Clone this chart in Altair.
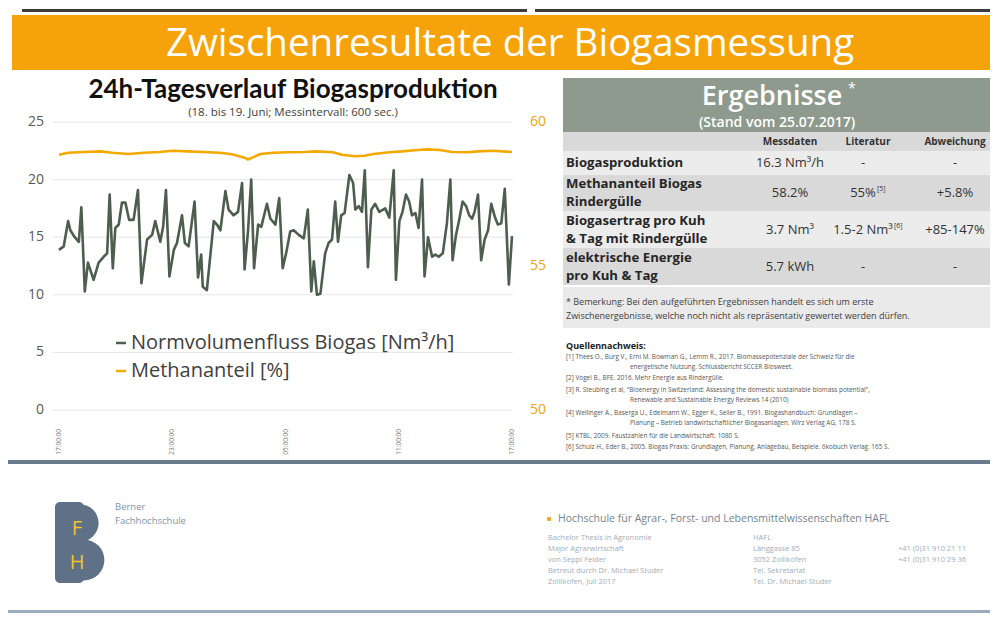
import altair as alt
import pandas as pd

# ---------------- data ----------------
# minutes after 17:00 (18 June) and Normvolumenfluss Biogas [Nm3/h]
flow_minutes = [0, 15, 29, 36, 50, 63, 71, 82, 92, 110,
                126, 142, 153, 161, 171, 179, 190, 200, 211, 223,
                237, 251, 262, 280, 296, 306, 322, 331, 340, 351,
                365, 375, 391, 400, 412, 431, 442, 452, 457, 470,
                492, 502, 513, 529, 539, 555, 569, 582, 590, 601,
                611, 620, 633, 643, 661, 672, 688, 700, 711, 722,
                735, 746, 762, 778, 791, 802, 810, 820, 831, 846,
                857, 868, 878, 887, 897, 908, 923, 935, 942, 953,
                963, 972, 982, 993, 1005, 1018, 1037, 1050, 1064, 1071,
                1082, 1092, 1103, 1113, 1122, 1133, 1143, 1154, 1162, 1173,
                1186, 1196, 1207, 1220, 1233, 1244, 1251, 1262, 1272, 1283,
                1294, 1304, 1313, 1321, 1332, 1342, 1353, 1364, 1374, 1385,
                1395, 1406, 1417, 1430, 1440]
flow_values = [13.9, 14.2, 16.4, 15.6, 15.0, 14.6, 17.6, 10.3, 12.8, 11.3,
               12.8, 13.3, 13.6, 18.7, 12.3, 15.8, 16.1, 18.0, 18.0, 16.5,
               16.5, 19.1, 11.0, 14.8, 15.2, 16.4, 14.6, 15.9, 19.1, 11.6,
               13.9, 14.5, 16.9, 14.5, 14.2, 18.1, 11.5, 13.5, 10.7, 10.4,
               16.4, 16.1, 15.6, 19.0, 17.4, 16.9, 17.2, 19.7, 12.2, 15.6,
               20.0, 12.3, 16.1, 15.9, 17.9, 16.6, 16.1, 18.4, 12.3, 13.6,
               15.5, 15.6, 15.2, 14.9, 17.4, 10.3, 12.9, 10.0, 10.1, 13.6,
               14.5, 14.8, 18.1, 14.6, 16.9, 17.1, 20.4, 19.7, 17.4, 17.7,
               17.2, 20.8, 12.4, 17.4, 17.9, 17.2, 17.5, 16.7, 20.8, 11.3,
               16.4, 17.2, 18.7, 18.1, 16.9, 17.1, 15.8, 20.0, 11.6, 15.0,
               13.3, 13.5, 13.3, 13.6, 16.2, 20.0, 13.0, 15.2, 16.5, 18.1,
               17.7, 16.9, 16.6, 17.2, 18.7, 13.0, 14.8, 15.6, 17.9, 16.8,
               16.1, 16.2, 19.2, 10.9, 15.1]
# Methananteil [%]
ch4_minutes = [0, 30, 80, 130, 170, 220, 270, 320, 360, 410,
               460, 510, 550, 590, 600, 620, 640, 680, 730, 780,
               820, 870, 900, 940, 970, 1000, 1050, 1090, 1140, 1170,
               1210, 1250, 1300, 1330, 1380, 1440]
ch4_values = [58.86, 58.93, 58.96, 58.98, 58.93, 58.89, 58.93, 58.96, 59.00, 58.98,
              58.96, 58.93, 58.88, 58.76, 58.70, 58.79, 58.89, 58.93, 58.95, 58.96,
              58.98, 58.95, 58.86, 58.81, 58.83, 58.89, 58.95, 58.98, 59.03, 59.05,
              59.03, 58.96, 58.95, 58.98, 59.00, 58.96]

left_ticks = [0, 5, 10, 15, 20, 25]
right_ticks = [50, 55, 60]
time_ticks = [0, 360, 720, 1080, 1440]
time_labels = ["17:00:00", "23:00:00", "05:00:00", "11:00:00", "17:00:00"]
series_names = ["Normvolumenfluss Biogas [Nm³/h]", "Methananteil [%]"]

banner_title = "Zwischenresultate der Biogasmessung"
chart_title = "24h-Tagesverlauf Biogasproduktion"
chart_subtitle = "(18. bis 19. Juni; Messintervall: 600 sec.)"

table_header = ["Messdaten", "Literatur", "Abweichung"]
row_labels_1 = ["Biogasproduktion", "Methananteil Biogas", "Biogasertrag pro Kuh", "elektrische Energie"]
row_labels_2 = ["", "Rindergülle", "& Tag mit Rindergülle", "pro Kuh & Tag"]
messdaten = ["16.3 Nm³/h", "58.2%", "3.7 Nm³", "5.7 kWh"]
literatur = ["-", "55%", "1.5-2 Nm³", "-"]
literatur_refs = ["", "[5]", "[6]", ""]
abweichung = ["-", "+5.8%", "+85-147%", "-"]
remark_lines = ["* Bemerkung: Bei den aufgeführten Ergebnissen handelt es sich um erste",
                "Zwischenergebnisse, welche noch nicht als repräsentativ gewertet werden dürfen."]
references = [
    "[1] Thees O., Burg V., Erni M. Bowman G., Lemm R., 2017. Biomassepotenziale der Schweiz für die",
    "[2] Vogel B., BFE. 2016. Mehr Energie aus Rindergülle.",
    "[3] R. Steubing et al, \"Bioenergy in Switzerland: Assessing the domestic sustainable biomass potential\",",
    "[4] Wellinger A., Baserga U., Edelmann W., Egger K., Seiler B., 1991. Biogashandbuch: Grundlagen –",
    "[5] KTBL, 2009. Faustzahlen für die Landwirtschaft. 1080 S.",
    "[6] Schulz H., Eder B., 2005. Biogas Praxis: Grundlagen, Planung, Anlagebau, Beispiele. ökobuch Verlag. 165 S.",
]
references_cont = ["energetische Nutzung. Schlussbericht SCCER Biosweet.", "",
                   "Renewable and Sustainable Energy Reviews 14 (2010)",
                   "Planung – Betrieb landwirtschaftlicher Biogasanlagen. Wirz Verlag AG, 178 S.", "", ""]
footer_col1 = ["Bachelor Thesis in Agronomie", "Major Agrarwirtschaft", "von Seppi Felder",
               "Betreut durch Dr. Michael Studer", "Zollikofen, Juli 2017"]
footer_col2 = ["HAFL", "Länggasse 85", "3052 Zollikofen", "Tel. Sekretariat", "Tel. Dr. Michael Studer"]
footer_col3 = ["", "", "", "+41 (0)31 910 21 11", "+41 (0)31 910 29 36"]

# ---------------- layout helpers ----------------
W, H = 982, 607
FONT = "Open Sans"
GREEN = "#4d5e4f"
ORANGE = "#f2a900"

X_TIME = alt.Scale(domain=[0, 1440], range=[51, 504], nice=False, zero=False)
Y_LEFT = alt.Scale(domain=[0, 25], range=[402, 114], nice=False, zero=False)
Y_RIGHT = alt.Scale(domain=[50, 60], range=[402, 114], nice=False, zero=False)
X_TAB = alt.Scale(domain=[0, 1, 2, 3], range=[558, 782, 860, 947], nice=False, zero=False)
Y_TAB = alt.Scale(domain=[-1.5, -1, -0.5, 0, 0.5, 1, 1.5, 2, 2.5, 3, 3.5],
                  range=[124, 133.5, 143, 155, 167, 185, 203, 221.5, 240, 258.5, 277],
                  nice=False, zero=False)
Y_REF = alt.Scale(domain=[0, 1, 2, 3, 4, 5], range=[349, 370, 382, 405, 428, 439], nice=False, zero=False)


def const_text(text, x, y, size, color, weight="normal", align="left", baseline="middle",
               font=FONT, line_height=None):
    props = dict(align=align, baseline=baseline, fontSize=size, font=font, fontWeight=weight, color=color)
    if line_height:
        props.update(lineBreak="\n", lineHeight=line_height)
    return alt.Chart(pd.DataFrame({"t": [text]})).mark_text(**props).encode(
        x=alt.value(x), y=alt.value(y), text="t:N")


def const_rect(x, y, x2, y2, color, **kw):
    return alt.Chart(pd.DataFrame({"k": [0]})).mark_rect(color=color, **kw).encode(
        x=alt.value(x), x2=alt.value(x2), y=alt.value(y), y2=alt.value(y2))


layers = []

# top strip and banner
layers.append(const_rect(14, 1, 519, 4, "#3c3c3c"))
layers.append(const_rect(527, 1, 982, 4, "#3c3c3c"))
layers.append(const_rect(4, 7, 982, 62, "#f6a30b"))
layers.append(const_text(banner_title, 502, 36, 38.5, "white", align="center"))

# chart titles
layers.append(const_text(chart_title, 285, 82, 26, "#111111", weight="bold", align="center", font="Lato"))
layers.append(const_text(chart_subtitle, 285, 105, 11.5, "#404040", align="center"))

# gridlines
layers.append(alt.Chart(pd.DataFrame({"v": left_ticks})).mark_rule(color="#e6e6e6", strokeWidth=1).encode(
    y=alt.Y("v:Q", scale=Y_LEFT, axis=None), x=alt.value(45), x2=alt.value(505)))

# axis labels
layers.append(alt.Chart(pd.DataFrame({"v": left_ticks})).mark_text(
    align="right", baseline="middle", fontSize=14, font=FONT, color="#595959").encode(
    y=alt.Y("v:Q", scale=Y_LEFT, axis=None), x=alt.value(36), text="v:Q"))
layers.append(alt.Chart(pd.DataFrame({"v": right_ticks})).mark_text(
    align="left", baseline="middle", fontSize=14, font=FONT, color="#f0a30a").encode(
    y=alt.Y("v:Q", scale=Y_RIGHT, axis=None), x=alt.value(522), text="v:Q"))
layers.append(alt.Chart(pd.DataFrame({"m": time_ticks, "lab": time_labels})).mark_text(
    angle=270, align="right", baseline="middle", fontSize=6.5, font=FONT, color="#777777").encode(
    x=alt.X("m:Q", scale=X_TIME, axis=None), y=alt.value(421), text="lab:N"))

# lines
color_scale = alt.Scale(domain=series_names, range=[GREEN, ORANGE])
legend = alt.Legend(orient="none", legendX=103, legendY=325, title=None, direction="vertical",
                    symbolType="stroke", symbolSize=100, symbolStrokeWidth=2.5,
                    labelFontSize=20, labelFont=FONT, labelColor="#404040", labelOffset=0,
                    rowPadding=8, labelLimit=500)
flow_df = pd.DataFrame({"min": flow_minutes, "v": flow_values, "series": series_names[0]})
ch4_df = pd.DataFrame({"min": ch4_minutes, "v": ch4_values, "series": series_names[1]})
layers.append(alt.Chart(ch4_df).mark_line(strokeWidth=2.6, strokeJoin="round").encode(
    x=alt.X("min:Q", scale=X_TIME, axis=None),
    y=alt.Y("v:Q", scale=Y_RIGHT, axis=None),
    color=alt.Color("series:N", scale=color_scale, legend=legend)))
layers.append(alt.Chart(flow_df).mark_line(strokeWidth=2.6, strokeJoin="round").encode(
    x=alt.X("min:Q", scale=X_TIME, axis=None),
    y=alt.Y("v:Q", scale=Y_LEFT, axis=None),
    color=alt.Color("series:N", scale=color_scale, legend=legend)))

# ---------------- results table ----------------
layers.append(const_rect(555, 70, 982, 124, "#8d9a8d"))
layers.append(const_text("Ergebnisse", 764, 89, 27, "white", weight=600, align="center"))
layers.append(const_text("*", 840, 81, 14, "white", align="left"))
layers.append(const_text("(Stand vom 25.07.2017)", 769, 115, 14, "white", weight=600, align="center"))

shade_df = pd.DataFrame({"row": [-1, 0, 1, 2, 3]})
layers.append(alt.Chart(shade_df).transform_calculate(
    top="datum.row - 0.5", bot="datum.row + 0.5", dark="(datum.row + 1) % 2 == 0").mark_rect().encode(
    y=alt.Y("top:Q", scale=Y_TAB, axis=None), y2="bot:Q",
    x=alt.value(555), x2=alt.value(982),
    color=alt.condition("datum.dark", alt.value("#d9d9d9"), alt.value("#ececec"))))

hdr_df = pd.DataFrame({"col": [1, 2, 3], "h": table_header})
layers.append(alt.Chart(hdr_df).transform_calculate(row="-1").mark_text(
    align="center", baseline="middle", fontSize=10, font=FONT, fontWeight="bold", color="#333333").encode(
    x=alt.X("col:Q", scale=X_TAB, axis=None), y=alt.Y("row:Q", scale=Y_TAB, axis=None), text="h:N"))

rows_df = pd.DataFrame({"row": [0, 1, 2, 3], "l1": row_labels_1, "l2": row_labels_2, "mess": messdaten,
                        "lit": literatur, "ref": literatur_refs, "abw": abweichung})
label_style = dict(align="left", baseline="middle", fontSize=13.2, font=FONT, fontWeight="bold",
                   color="#262626")
layers.append(alt.Chart(rows_df).transform_filter("datum.row == 0").transform_calculate(col="0").mark_text(
    **label_style).encode(
    x=alt.X("col:Q", scale=X_TAB, axis=None), y=alt.Y("row:Q", scale=Y_TAB, axis=None), text="l1:N"))
layers.append(alt.Chart(rows_df).transform_filter("datum.row > 0").transform_calculate(col="0").mark_text(
    dy=-9, **label_style).encode(
    x=alt.X("col:Q", scale=X_TAB, axis=None), y=alt.Y("row:Q", scale=Y_TAB, axis=None), text="l1:N"))
layers.append(alt.Chart(rows_df).transform_filter("datum.row > 0").transform_calculate(col="0").mark_text(
    dy=9, **label_style).encode(
    x=alt.X("col:Q", scale=X_TAB, axis=None), y=alt.Y("row:Q", scale=Y_TAB, axis=None), text="l2:N"))
for ci, field in [(1, "mess"), (2, "lit"), (3, "abw")]:
    layers.append(alt.Chart(rows_df).transform_calculate(col=str(ci)).mark_text(
        align="center", baseline="middle", fontSize=13, font=FONT, color="#333333",
        dx=-5 if ci == 2 else 0).encode(
        x=alt.X("col:Q", scale=X_TAB, axis=None), y=alt.Y("row:Q", scale=Y_TAB, axis=None),
        text=f"{field}:N"))
for r, off in [(1, 9), (2, 26)]:
    layers.append(alt.Chart(rows_df).transform_filter(f"datum.row == {r}").transform_calculate(
        col="2").mark_text(align="left", baseline="middle", fontSize=7, font=FONT, color="#333333",
                           dx=off, dy=-4).encode(
        x=alt.X("col:Q", scale=X_TAB, axis=None), y=alt.Y("row:Q", scale=Y_TAB, axis=None), text="ref:N"))

# remark box
layers.append(const_rect(555, 279, 982, 320, "#eaeaea"))
layers.append(const_text("\n".join(remark_lines), 558, 294, 9, "#404040", line_height=13.5))

# references
layers.append(const_text("Quellennachweis:", 558, 338, 9, "#222222", weight="bold"))
ref_df = pd.DataFrame({"i": list(range(len(references))), "t": references, "c": references_cont})
layers.append(alt.Chart(ref_df).mark_text(align="left", baseline="middle", fontSize=6.4, font=FONT,
                                          color="#555555").encode(
    x=alt.value(558), y=alt.Y("i:Q", scale=Y_REF, axis=None), text="t:N"))
layers.append(alt.Chart(ref_df).mark_text(align="left", baseline="middle", fontSize=6.4, font=FONT,
                                          color="#555555", dy=10).encode(
    x=alt.value(622), y=alt.Y("i:Q", scale=Y_REF, axis=None), text="c:N"))

# ---------------- footer ----------------
layers.append(const_rect(0, 452, 982, 456, "#6a7b8d"))
layers.append(const_rect(0, 602, 982, 605, "#9aabbb"))
# BFH logo
layers.append(const_rect(47, 494, 76, 575, "#5f7187", cornerRadius=5))
layers.append(alt.Chart(pd.DataFrame({"k": [0]})).mark_circle(color="#5f7187", opacity=1).encode(
    x=alt.value(72), y=alt.value(515), size=alt.value(1385)))
layers.append(alt.Chart(pd.DataFrame({"k": [0]})).mark_circle(color="#5f7187", opacity=1).encode(
    x=alt.value(76), y=alt.value(552), size=alt.value(1662)))
layers.append(const_text("F", 69, 521, 20, "#f2c230", align="center"))
layers.append(const_text("H", 69, 555, 20, "#f2c230", align="center"))
layers.append(const_text("Berner\nFachhochschule", 107, 499, 9.5, "#8593a3", line_height=14))

# HAFL block
layers.append(alt.Chart(pd.DataFrame({"k": [0]})).mark_square(color="#f6a30b", opacity=1).encode(
    x=alt.value(541), y=alt.value(511), size=alt.value(14)))
layers.append(const_text("Hochschule für Agrar-, Forst- und Lebensmittelwissenschaften HAFL",
                         550, 511, 10.5, "#74828f"))
layers.append(const_text("\n".join(footer_col1), 540, 530, 7.5, "#a3adb8", line_height=11))
layers.append(const_text("\n".join(footer_col2), 745, 530, 7.5, "#a3adb8", line_height=11))
layers.append(const_text("\n".join(footer_col3), 890, 530, 7.5, "#a3adb8", line_height=11))

chart = alt.layer(*layers).resolve_scale(x="independent", y="independent").properties(
    width=W, height=H, autosize=alt.AutoSizeParams(type="none"), padding=0, background="white"
).configure_view(stroke=None)

chart.save("out.html", embed_options={"renderer": "svg", "actions": False})
